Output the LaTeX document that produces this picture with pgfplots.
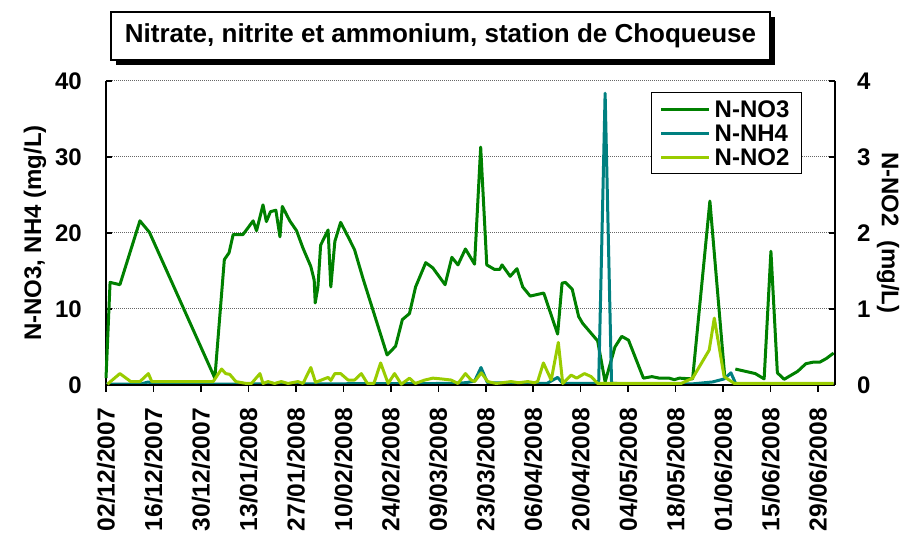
\documentclass[border=0pt]{standalone}
\usepackage{fontspec}
\setmainfont{Liberation Sans}
\usepackage{pgfplots}
\pgfplotsset{compat=1.18}
\definecolor{no3}{RGB}{0,128,0}
\definecolor{nh4}{RGB}{0,128,128}
\definecolor{no2}{RGB}{153,204,0}
\newcommand\lab{\fontsize{24}{28}\selectfont\bfseries}
\begin{document}
\begin{tikzpicture}[x=1pt,y=1pt]
\useasboundingbox (0,0) rectangle (907,537);
\pgfplotsset{base/.style={at={(106pt,152pt)}, anchor=south west, scale only axis,
  width=729pt, height=304pt, xmin=0, xmax=215, ymin=0, ymax=40,
  /pgf/number format/assume math mode=true, clip=false, unbounded coords=jump}}
% left axis: grid, NO3, NH4
\begin{axis}[base, axis x line=none, axis y line=left,
  axis line style={-}, y axis line style={-, line width=1.5pt, black},
  ytick={0,10,20,30,40}, ymajorgrids,
  major grid style={black!60, dash pattern=on 1pt off 1pt, line width=1pt},
  tick align=inside, major tick length=6pt, tick style={line width=1.5pt, black},
  yticklabel style={font=\lab, anchor=east, inner sep=0pt, xshift=-24pt}]
\addplot[no3, line width=3pt, line join=round] coordinates {
(0,0.9) (1.2,13.5) (4.1,13.2) (10.0,21.6) (12.8,20.1) (32.1,0.9) (34.9,16.5) (36.3,17.4)
(37.5,19.8) (40.4,19.8) (43.4,21.6) (44.4,20.3) (46.3,23.7) (47.3,21.5) (48.5,22.8)
(50.1,23.0) (51.3,19.5) (52.0,23.5) (54.2,21.6) (56.2,20.3) (58.1,18.0) (60.4,15.6)
(61.4,13.8) (61.7,10.8) (62.5,12.9) (63.3,18.4) (65.5,20.4) (66.3,12.9) (67.5,18.9)
(69.2,21.4) (71.4,19.5) (73.3,17.8) (75.8,14.0) (82.9,3.95) (85.4,5.1) (87.4,8.6)
(89.5,9.4) (91.3,12.9) (94.3,16.1) (96.4,15.4) (100.0,13.2) (102.0,16.8) (103.8,15.8)
(106.0,17.9) (108.7,15.9) (110.5,31.3) (112.3,15.8) (114.6,15.2) (116.1,15.2) (116.8,15.8)
(119.2,14.3) (121.2,15.3) (122.9,12.9) (125.1,11.7) (129.1,12.1) (133.2,6.7) (134.5,13.4)
(135.5,13.5) (137.5,12.6) (139.4,9.0) (140.6,8.1) (145.0,5.8) (147.2,0.4) (150.1,5.0)
(152.1,6.4) (154.1,5.9) (158.5,0.9) (161.0,1.1) (163.2,0.9) (166.1,0.9) (167.6,0.7)
(169.1,0.9) (173.0,0.8) (178.1,24.2) (182.5,1.0) (183.5,nan) (185.6,2.1) (191.5,1.5)
(194.1,0.8) (196.1,17.6) (198.0,1.6) (200.0,0.75) (204.0,1.8) (206.4,2.8) (208.5,3.0)
(210.5,3.0) (212.5,3.5) (214.6,4.2)};
\addplot[nh4, line width=3pt, line join=round] coordinates {
(0,0.1) (10,0.1) (12.5,0.4) (14,0.1) (60,0.15) (100,0.2) (106,0.3) (108.7,0.5)
(110.6,2.3) (112.5,0.3) (130,0.2) (133.2,1.0) (134.7,0.2) (145.3,0.2) (147.2,38.4)
(149.1,0.2) (173,0.15) (178.9,0.4) (182.3,0.8) (184.3,1.6) (185.8,0.1) (214.6,0.1)};
\end{axis}
% x axis
\begin{axis}[base, axis y line=none, axis x line=bottom,
  axis line style={-}, x axis line style={-, line width=1.5pt, black},
  xtick={0,14,...,210},
  xticklabels={02/12/2007,16/12/2007,30/12/2007,13/01/2008,27/01/2008,10/02/2008,
    24/02/2008,09/03/2008,23/03/2008,06/04/2008,20/04/2008,04/05/2008,18/05/2008,
    01/06/2008,15/06/2008,29/06/2008},
  tick align=outside, major tick length=7pt, tick style={line width=1.5pt, black},
  xticklabel shift=16pt,
  xticklabel style={font=\fontsize{24.6}{28}\selectfont\bfseries, rotate=90, anchor=east, inner sep=0pt}]
\end{axis}
% right axis: NO2
\begin{axis}[base, ymax=4, axis x line=none, axis y line=right,
  axis line style={-}, y axis line style={-, line width=1.5pt, black},
  ytick={0,1,2,3,4},
  tick align=inside, major tick length=6pt, tick style={line width=1.5pt, black},
  yticklabel style={font=\lab, anchor=west, inner sep=0pt, xshift=22pt},
  legend style={at={(0.9547,0.9638)}, anchor=north east, draw=black, line width=1.2pt,
    fill=white, font=\lab, inner xsep=8pt, inner ysep=4.5pt, row sep=0pt,
    nodes={inner xsep=4pt, inner ysep=3.5pt, text height=17pt, text depth=0pt},
    cells={anchor=west}},
  legend image code/.code={\draw[#1, line width=3pt] (0pt,0pt) -- (48pt,0pt);}]
\addlegendimage{no3, line width=3pt}
\addlegendentry{N-NO3}
\addlegendimage{nh4, line width=3pt}
\addlegendentry{N-NH4}
\addplot[no2, line width=3pt, line join=round] coordinates {
(0.4,0.01) (4.1,0.15) (7.3,0.045) (10.0,0.045) (12.5,0.15) (13.5,0.045) (31.6,0.045)
(34.1,0.21) (35.3,0.15) (36.5,0.14) (38.3,0.045) (41.4,0.02) (42.9,0.02) (45.4,0.15)
(46.3,0.02) (47.8,0.045) (49.7,0.02) (51.7,0.045) (53.7,0.02) (56.6,0.045) (58.1,0.02)
(60.4,0.23) (61.8,0.035) (65.5,0.10) (66.3,0.06) (67.5,0.15) (69.2,0.15) (71.4,0.065)
(73.3,0.065) (75.3,0.15) (77.1,0.02) (79.0,0.02) (81.0,0.29) (83.2,0.02) (85.1,0.15)
(87.1,0.01) (89.5,0.09) (91.2,0.02) (94.0,0.065) (96.4,0.09) (98.9,0.08) (101.8,0.065)
(103.8,0.02) (106.0,0.15) (107.7,0.065) (108.7,0.045) (110.7,0.16) (112.6,0.045)
(115.1,0.02) (119.5,0.045) (121.7,0.03) (124.4,0.045) (126.3,0.03) (127.3,0.045)
(129.0,0.29) (131.3,0.065) (133.4,0.56) (134.7,0.02) (137.2,0.13) (138.8,0.09)
(141.1,0.15) (143.1,0.11) (145.0,0.02) (169.6,0.02) (173.0,0.09) (177.9,0.46)
(179.4,0.88) (182.3,0.11) (185.3,0.02) (214.6,0.02)};
\addlegendentry{N-NO2}
\end{axis}
% title with shadow
\node[fill=black, minimum width=659pt, minimum height=48pt, inner sep=0pt] at (445.5,496) {};
\node[draw=black, line width=1.5pt, fill=white, minimum width=659pt, minimum height=48pt,
  inner sep=0pt, font=\fontsize{26}{30}\selectfont\bfseries] at (440.5,501)
  {Nitrate, nitrite et ammonium, station de Choqueuse};
% axis titles
\node[rotate=90, font=\lab] at (35,304) {N-NO3, NH4 (mg/L)};
\node[rotate=-90, font=\lab] at (888,304) {N-NO2\ \ (mg/L)};
\end{tikzpicture}
\end{document}
